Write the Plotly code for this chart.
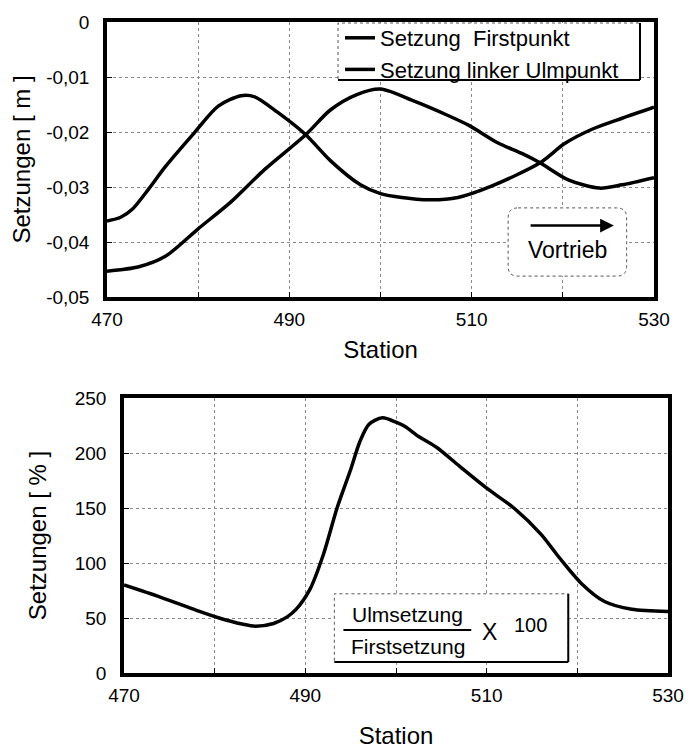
import plotly.graph_objects as go

# ---------------- data ----------------
first_x = [470, 473.5, 476.4, 480, 483.6, 487.3, 491.8, 494.5, 497.4, 500,
           503.7, 507.4, 509.7, 512.9, 515.5, 517.5, 520.6, 524, 526.5, 530]
first_y = [-0.0453, -0.0445, -0.0426, -0.0376, -0.0327, -0.0268, -0.0205, -0.0160,
           -0.0132, -0.0122, -0.0144, -0.0170, -0.0188, -0.0220, -0.0239, -0.0256,
           -0.0287, -0.0302, -0.0296, -0.0283]

ulm_x = [470, 471.5, 472.8, 474.6, 476.4, 479.6, 482.2, 484.7, 486.2, 488.7, 491.8,
         494.5, 497.8, 500, 504.8, 508.5, 512.1, 517.5, 520.2, 523.2, 526.5, 530]
ulm_y = [-0.0362, -0.0355, -0.0340, -0.0303, -0.0263, -0.0201, -0.0153, -0.0134,
         -0.0136, -0.0164, -0.0205, -0.0252, -0.0296, -0.0312, -0.0323, -0.0319,
         -0.0299, -0.0256, -0.0221, -0.0195, -0.0175, -0.0155]

ratio_x = [470, 474, 478, 480.5, 483, 484.5, 486.5, 488, 489, 490.5, 492, 493.5,
           495, 496, 497, 498.5, 500, 501, 502.5, 504.5, 507, 510, 513, 516, 518,
           520.5, 523, 526, 530]
ratio_y = [80, 69, 57, 50, 44.5, 42.5, 45, 51, 58, 76, 108, 150, 185, 210, 226,
           232, 228, 224, 215, 205, 188, 168, 150, 126, 105, 81, 65, 58, 56]

station_ticks = [470, 480, 490, 500, 510, 520, 530]
station_text = ["470", "", "490", "", "510", "", "530"]
top_yticks = [0, -0.01, -0.02, -0.03, -0.04, -0.05]
top_ytext = ["0", "-0,01", "-0,02", "-0,03", "-0,04", "-0,05"]
bot_yticks = [0, 50, 100, 150, 200, 250]
bot_ytext = ["0", "50", "100", "150", "200", "250"]

name_first = "Setzung\u00a0\u00a0Firstpunkt"
name_ulm = "Setzung linker Ulmpunkt"

# ---------------- figure ----------------
W, H = 693, 751
OFF = 8  # page body margin offset


def fx(px):
    return (px - OFF) / W


def fy(py):
    return 1 - (py - OFF) / H


FONT = "Arial, Liberation Sans, sans-serif"
LW = 3.5

fig = go.Figure()
fig.add_trace(go.Scatter(x=first_x, y=first_y, name=name_first, mode="lines",
                         line=dict(color="black", width=LW, shape="spline", smoothing=0.8),
                         xaxis="x", yaxis="y"))
fig.add_trace(go.Scatter(x=ulm_x, y=ulm_y, name=name_ulm, mode="lines",
                         line=dict(color="black", width=LW, shape="spline", smoothing=0.8),
                         xaxis="x", yaxis="y"))
fig.add_trace(go.Scatter(x=ratio_x, y=ratio_y, name="Ulmsetzung / Firstsetzung x 100",
                         mode="lines", showlegend=False,
                         line=dict(color="black", width=LW, shape="spline", smoothing=0.8),
                         xaxis="x2", yaxis="y2"))

axis_common = dict(showline=True, mirror=True, linecolor="black", linewidth=3.5,
                   showgrid=True, gridcolor="#8a8a8a", griddash="dot", gridwidth=1,
                   ticks="inside", ticklen=5, tickcolor="black", zeroline=False,
                   automargin=False,
                   tickfont=dict(family=FONT, size=19, color="black"))

fig.update_layout(
    width=W, height=H,
    margin=dict(l=0, r=0, t=0, b=0, autoexpand=False),
    paper_bgcolor="white", plot_bgcolor="white",
    font=dict(family=FONT, color="black"),
    showlegend=True,
    legend=dict(x=fx(340), y=fy(17), xanchor="left", yanchor="top",
                bgcolor="rgba(0,0,0,0)", borderwidth=0, itemwidth=30,
                font=dict(family=FONT, size=22, color="black"),
                tracegroupgap=0),
    xaxis=dict(domain=[fx(107), fx(654)], anchor="y", range=[470, 530],
               tickvals=station_ticks, ticktext=station_text, ticklabelstandoff=2,
               title=dict(text="Station", font=dict(family=FONT, size=24), standoff=14),
               **axis_common),
    yaxis=dict(domain=[fy(297), fy(22)], anchor="x", range=[-0.05, 0],
               tickvals=top_yticks, ticktext=top_ytext, ticklabelstandoff=10,
               title=dict(text="Setzungen [ m ]", font=dict(family=FONT, size=24), standoff=12),
               **axis_common),
    xaxis2=dict(domain=[fx(124), fx(668)], anchor="y2", range=[470, 530],
                tickvals=station_ticks, ticktext=station_text, ticklabelstandoff=2,
                title=dict(text="Station", font=dict(family=FONT, size=24), standoff=24),
                **axis_common),
    yaxis2=dict(domain=[fy(673), fy(398)], anchor="x2", range=[0, 250],
                tickvals=bot_yticks, ticktext=bot_ytext, ticklabelstandoff=10,
                title=dict(text="Setzungen [ % ]", font=dict(family=FONT, size=24), standoff=22),
                **axis_common),
)

shapes = []
# legend box (dotted top/left, solid right/bottom)
lx0, lx1, ly0, ly1 = fx(338), fx(640), fy(23), fy(80)
shapes.append(dict(type="rect", xref="paper", yref="paper", x0=lx0, x1=lx1, y0=ly1, y1=ly0,
                   fillcolor="white", line=dict(color="#555", width=1, dash="dot"), layer="above"))
shapes.append(dict(type="line", xref="paper", yref="paper", x0=lx1, x1=lx1, y0=ly1, y1=ly0,
                   line=dict(color="black", width=2), layer="above"))
shapes.append(dict(type="line", xref="paper", yref="paper", x0=lx0, x1=lx1, y0=ly1, y1=ly1,
                   line=dict(color="black", width=2), layer="above"))

# Vortrieb rounded box (data coords of top plot)
bx0, bx1, by0, by1 = 514.0, 527.0, -0.0462, -0.0338
rx, ry = 1.1, 0.0018
path = (f"M {bx0+rx},{by1} L {bx1-rx},{by1} Q {bx1},{by1} {bx1},{by1-ry} "
        f"L {bx1},{by0+ry} Q {bx1},{by0} {bx1-rx},{by0} L {bx0+rx},{by0} "
        f"Q {bx0},{by0} {bx0},{by0+ry} L {bx0},{by1-ry} Q {bx0},{by1} {bx0+rx},{by1} Z")
shapes.append(dict(type="path", xref="x", yref="y", path=path, fillcolor="white",
                   line=dict(color="#555", width=1, dash="dot"), layer="above"))

# ratio box on bottom plot
rbx0, rbx1, rby0, rby1 = 493.2, 519.0, 10, 72
shapes.append(dict(type="rect", xref="x2", yref="y2", x0=rbx0, x1=rbx1, y0=rby0, y1=rby1,
                   fillcolor="white", line=dict(color="#555", width=1, dash="dot"), layer="above"))
shapes.append(dict(type="line", xref="x2", yref="y2", x0=rbx1, x1=rbx1, y0=rby0, y1=rby1,
                   line=dict(color="black", width=2), layer="above"))
shapes.append(dict(type="line", xref="x2", yref="y2", x0=rbx0, x1=rbx1, y0=rby0, y1=rby0,
                   line=dict(color="black", width=2), layer="above"))
# fraction bar
shapes.append(dict(type="line", xref="x2", yref="y2", x0=494.2, x1=508.3, y0=39, y1=39,
                   line=dict(color="black", width=2), layer="above"))
fig.update_layout(shapes=shapes)

annotations = [
    dict(xref="x", yref="y", x=525.6, y=-0.0370, ax=516.3, ay=-0.0370,
         axref="x", ayref="y", showarrow=True, arrowhead=2, arrowsize=1.1,
         arrowwidth=2.5, arrowcolor="black", text=""),
    dict(xref="x", yref="y", x=520.5, y=-0.0414, text="Vortrieb", showarrow=False,
         font=dict(family=FONT, size=23, color="black")),
    dict(xref="x2", yref="y2", x=501.3, y=53, text="Ulmsetzung", showarrow=False,
         font=dict(family=FONT, size=21, color="black")),
    dict(xref="x2", yref="y2", x=501.3, y=24, text="Firstsetzung", showarrow=False,
         font=dict(family=FONT, size=21, color="black")),
    dict(xref="x2", yref="y2", x=510.3, y=37, text="X", showarrow=False,
         font=dict(family=FONT, size=23, color="black")),
    dict(xref="x2", yref="y2", x=514.8, y=44, text="100", showarrow=False,
         font=dict(family=FONT, size=20, color="black")),
]
fig.update_layout(annotations=annotations)

fig.write_html("out.html")
